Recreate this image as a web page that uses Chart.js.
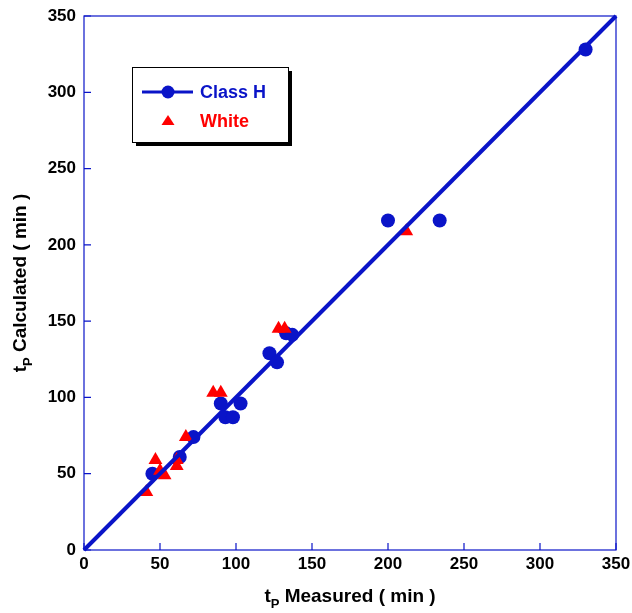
<!DOCTYPE html>
<html>
<head>
<meta charset="utf-8">
<script src="https://cdn.jsdelivr.net/npm/chart.js@4.4.1/dist/chart.umd.min.js"></script>
<style>
html,body{margin:0;padding:0;background:#fff;}
#wrap{width:632px;height:613px;}
</style>
</head>
<body>
<div id="wrap"><canvas id="c" width="632" height="613"></canvas></div>
<script>
// Data
const classHMeasured   = [45, 63, 72, 90, 103, 93, 98, 122, 127, 133, 137, 200, 234, 330];
const classHCalculated = [50, 61, 74, 96, 96, 87, 87, 129, 123, 142, 141, 216, 216, 328];
const whiteMeasured    = [41, 47, 50, 53, 61, 61, 67, 85, 90, 128, 132, 212];
const whiteCalculated  = [38, 59, 52, 49, 59, 55, 74, 103, 103, 145, 145, 209];
const lineMeasured     = [0, 350];
const lineCalculated   = [0, 350];
const tickValues       = [0, 50, 100, 150, 200, 250, 300, 350];
const xTitleMain = ' Measured ( min )';
const yTitleMain = ' Calculated ( min )';
const titleT = 't', titleSub = 'P';
const legendLabels = ['Class H', 'White'];

const BLUE = '#0a14c8';
const RED = '#ff0000';
const FONT = '"Liberation Sans", Arial, Helvetica, sans-serif';

const toPts = (xs, ys) => xs.map((x, i) => ({x: x, y: ys[i]}));

const framePlugin = {
  id: 'frame',
  beforeDatasetsDraw(chart) {
    const {ctx, chartArea: a, scales: {x, y}} = chart;
    ctx.save();
    ctx.strokeStyle = BLUE;
    ctx.lineWidth = 1.2;
    ctx.strokeRect(a.left, a.top, a.right - a.left, a.bottom - a.top);
    ctx.beginPath();
    tickValues.forEach(v => {
      const px = x.getPixelForValue(v);
      ctx.moveTo(px, a.bottom); ctx.lineTo(px, a.bottom - 7);
      const py = y.getPixelForValue(v);
      ctx.moveTo(a.left, py); ctx.lineTo(a.left + 7, py);
    });
    ctx.stroke();
    ctx.restore();
  },
  afterDraw(chart) {
    const {ctx, chartArea: a} = chart;
    ctx.save();
    const drawTitle = (cx, cy, rot, main) => {
      ctx.save();
      ctx.translate(cx, cy);
      ctx.rotate(rot);
      ctx.fillStyle = '#000';
      ctx.textBaseline = 'middle';
      ctx.font = 'bold 19px ' + FONT;
      const wT = ctx.measureText(titleT).width;
      const wM = ctx.measureText(main).width;
      ctx.font = 'bold 13px ' + FONT;
      const wS = ctx.measureText(titleSub).width;
      let sx = -(wT + wS + wM) / 2;
      ctx.font = 'bold 19px ' + FONT;
      ctx.fillText(titleT, sx, 0);
      ctx.font = 'bold 13px ' + FONT;
      ctx.fillText(titleSub, sx + wT, 7);
      ctx.font = 'bold 19px ' + FONT;
      ctx.fillText(main, sx + wT + wS, 0);
      ctx.restore();
    };
    drawTitle((a.left + a.right) / 2, 597, 0, xTitleMain);
    drawTitle(21, (a.top + a.bottom) / 2, -Math.PI / 2, yTitleMain);

    // legend box
    const bx = 132, by = 67, bw = 156, bh = 75;
    ctx.fillStyle = '#000';
    ctx.fillRect(bx + 4, by + 4, bw, bh);
    ctx.fillStyle = '#fff';
    ctx.fillRect(bx, by, bw, bh);
    ctx.strokeStyle = '#000';
    ctx.lineWidth = 1;
    ctx.strokeRect(bx + 0.5, by + 0.5, bw, bh);
    ctx.strokeStyle = BLUE;
    ctx.lineWidth = 3;
    ctx.beginPath(); ctx.moveTo(142, 92); ctx.lineTo(193, 92); ctx.stroke();
    ctx.fillStyle = BLUE;
    ctx.beginPath(); ctx.arc(168, 92, 6.5, 0, Math.PI * 2); ctx.fill();
    ctx.font = 'bold 18px ' + FONT;
    ctx.textBaseline = 'middle';
    ctx.fillText(legendLabels[0], 200, 93);
    ctx.fillStyle = RED;
    ctx.beginPath();
    ctx.moveTo(168, 115); ctx.lineTo(174.5, 125); ctx.lineTo(161.5, 125); ctx.closePath(); ctx.fill();
    ctx.fillText(legendLabels[1], 200, 122);
    ctx.restore();
  }
};

new Chart(document.getElementById('c'), {
  type: 'scatter',
  data: {
    datasets: [
      {
        label: 'line',
        type: 'line',
        data: toPts(lineMeasured, lineCalculated),
        borderColor: BLUE,
        borderWidth: 4,
        pointRadius: 0,
        fill: false,
        order: 0,
        clip: 3
      },
      {
        label: legendLabels[1],
        data: toPts(whiteMeasured, whiteCalculated),
        pointStyle: 'triangle',
        pointRadius: 8,
        backgroundColor: RED,
        borderColor: RED,
        borderWidth: 0,
        order: 1
      },
      {
        label: legendLabels[0],
        data: toPts(classHMeasured, classHCalculated),
        pointStyle: 'circle',
        pointRadius: 7,
        backgroundColor: BLUE,
        borderColor: BLUE,
        borderWidth: 0,
        order: 2
      }
    ]
  },
  options: {
    responsive: false,
    animation: false,
    devicePixelRatio: 1,
    layout: {padding: {top: 16, right: 16, left: 0, bottom: 0}},
    plugins: {legend: {display: false}, tooltip: {enabled: false}},
    scales: {
      x: {
        type: 'linear', min: 0, max: 350,
        afterFit(s) { s.height = 63; s.paddingRight = 0; s.paddingLeft = 0; },
        afterBuildTicks(s) { s.ticks = tickValues.map(v => ({value: v})); },
        grid: {display: false, drawTicks: false, tickLength: 0},
        border: {display: false},
        ticks: {color: '#000', font: {family: FONT, size: 17, weight: 'bold'}, padding: 4, maxRotation: 0}
      },
      y: {
        type: 'linear', min: 0, max: 350,
        afterFit(s) { s.width = 84; s.paddingTop = 0; s.paddingBottom = 0; },
        afterBuildTicks(s) { s.ticks = tickValues.map(v => ({value: v})); },
        grid: {display: false, drawTicks: false, tickLength: 0},
        border: {display: false},
        ticks: {color: '#000', font: {family: FONT, size: 17, weight: 'bold'}, padding: 8}
      }
    }
  },
  plugins: [framePlugin]
});
</script>
</body>
</html>
